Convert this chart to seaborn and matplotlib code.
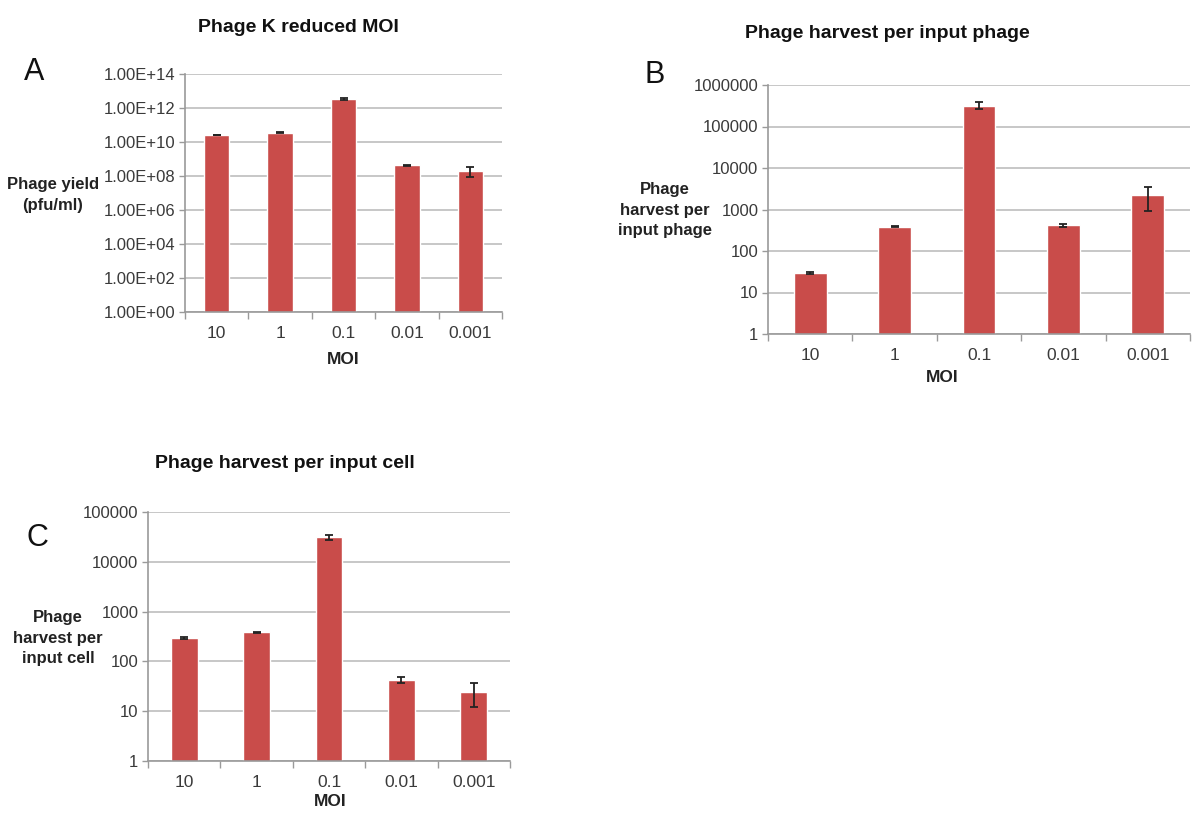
import numpy as np
import pandas as pd
import matplotlib
matplotlib.use("Agg")
import matplotlib.pyplot as plt
from matplotlib.ticker import FixedLocator, FuncFormatter, NullLocator
import seaborn as sns

# MOI categories shared by all three panels
moi = ["10", "1", "0.1", "0.01", "0.001"]

# Panel A: phage yield (pfu/ml)
yield_pfu = [2.6e10, 3.5e10, 3.4e12, 4.3e8, 2.1e8]
yield_err = [1.5e9, 2.0e9, 3.0e11, 3.0e7, 1.2e8]

# Panel B: phage harvest per input phage
per_phage = [29, 385, 3.2e5, 415, 2230]
per_phage_err = [1.5, 12, 6.0e4, 40, 1300]

# Panel C: phage harvest per input cell
per_cell = [295, 383, 3.15e4, 42, 24]
per_cell_err = [10, 15, 3.5e3, 6, 12]

BAR = "#c94c4a"
GRID = "#bdbdbd"
TXT = "#3a3a3a"

sns.set_theme(style="white")
plt.rcParams["font.family"] = ["Liberation Sans", "DejaVu Sans"]

fig = plt.figure(figsize=(11.92, 8.14), dpi=100)


def panel(rect, values, errs, ticks, fmt, ylabel, title, title_xy, letter, letter_xy,
          ylabel_xy, xlabel_xy, bar_ratio):
    ax = fig.add_axes(rect)
    df = pd.DataFrame({"MOI": moi, "val": values})
    sns.barplot(data=df, x="MOI", y="val", color=BAR, saturation=1,
                width=bar_ratio, errorbar=None, ax=ax)
    ax.errorbar(np.arange(len(moi)), values, yerr=errs, fmt="none",
                ecolor="#222222", elinewidth=1.3, capsize=3, capthick=1.3, zorder=5)
    ax.set_yscale("log")
    ax.set_ylim(ticks[0], ticks[-1])
    ax.set_xlim(-0.5, len(moi) - 0.5)
    ax.yaxis.set_major_locator(FixedLocator(ticks))
    ax.yaxis.set_minor_locator(NullLocator())
    ax.yaxis.set_major_formatter(FuncFormatter(fmt))
    ax.grid(axis="y", color=GRID, linewidth=1.2)
    ax.set_axisbelow(True)
    for s in ("top", "right"):
        ax.spines[s].set_visible(False)
    for s in ("left", "bottom"):
        ax.spines[s].set_color("#9a9a9a")
        ax.spines[s].set_linewidth(1.2)
    ax.tick_params(axis="y", left=True, length=4, width=1, color="#9a9a9a",
                   labelsize=12, labelcolor=TXT, pad=3)
    ax.tick_params(axis="x", which="major", bottom=False, labelsize=12.5,
                   labelcolor=TXT, pad=4)
    ax.xaxis.set_minor_locator(FixedLocator(np.arange(-0.5, len(moi), 1.0)))
    ax.tick_params(axis="x", which="minor", bottom=True, length=5, width=1,
                   color="#9a9a9a")
    ax.set_xlabel("")
    ax.set_ylabel("")
    fig.text(*xlabel_xy, "MOI", ha="center", va="center", fontsize=12.5,
             fontweight="bold", color="#222222")
    fig.text(*ylabel_xy, ylabel, ha="center", va="center", fontsize=12,
             fontweight="bold", color="#222222", linespacing=1.45)
    fig.text(*title_xy, title, ha="center", va="center", fontsize=14,
             fontweight="bold", color="#111111")
    fig.text(*letter_xy, letter, ha="center", va="center", fontsize=22,
             color="#111111")
    return ax


W, H = 1192.0, 814.0


def fx(x):
    return x / W


def fy(y):
    return 1 - y / H


def rect(l, t, r, b):
    return [fx(l), fy(b), fx(r) - fx(l), fy(t) - fy(b)]


def sci(v, pos):
    mant, exp = "{:.2E}".format(v).split("E")
    return "{}E{}{:02d}".format(mant, "+" if int(exp) >= 0 else "-", abs(int(exp)))


def plain(v, pos):
    return "{:d}".format(int(round(v)))


panel(rect(185, 74, 502, 312), yield_pfu, yield_err,
      [10.0 ** k for k in range(0, 15, 2)], sci,
      "Phage yield\n(pfu/ml)", "Phage K reduced MOI", (fx(298), fy(27)),
      "A", (fx(34), fy(72)), (fx(53), fy(195)), (fx(343), fy(360)), 0.4)

panel(rect(768, 85, 1190, 334), per_phage, per_phage_err,
      [10.0 ** k for k in range(0, 7)], plain,
      "Phage\nharvest per\ninput phage", "Phage harvest per input phage",
      (fx(887), fy(33)), "B", (fx(655), fy(75)), (fx(665), fy(210)),
      (fx(942), fy(377)), 0.39)

panel(rect(148, 512, 510, 761), per_cell, per_cell_err,
      [10.0 ** k for k in range(0, 6)], plain,
      "Phage\nharvest per\ninput cell", "Phage harvest per input cell",
      (fx(285), fy(463)), "C", (fx(37), fy(538)), (fx(58), fy(638)),
      (fx(330), fy(802)), 0.37)

fig.savefig("out.png", dpi=100, facecolor="white")
